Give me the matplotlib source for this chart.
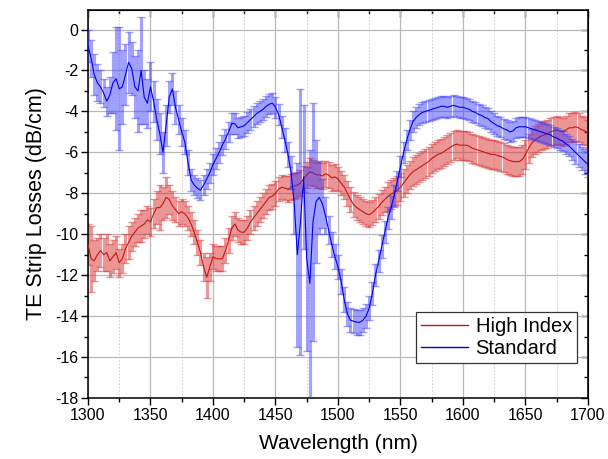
import matplotlib
matplotlib.use("Agg")
import matplotlib.pyplot as plt
import numpy as np
from matplotlib.ticker import MultipleLocator

plt.rcParams["font.family"] = ["Liberation Sans", "DejaVu Sans"]
plt.rcParams["axes.unicode_minus"] = False

# wavelength grid, 2.5 nm steps from 1300 to 1700 nm
WAVELENGTH = np.linspace(1300.0, 1700.0, 161)

# Standard strip (blue), dB/cm
STANDARD = [
    -0.8, -1.4, -2.2, -2.6, -2.8, -3.1, -3.5, -3.2,
    -2.6, -2.4, -2.9, -2.8, -2.2, -1.6, -1.9, -2.8,
    -3.0, -2.0, -3.3, -3.6, -2.8, -3.5, -4.4, -5.1,
    -6.0, -4.7, -3.3, -2.9, -3.8, -4.4, -5.0, -5.5,
    -6.5, -7.35, -7.6, -7.75, -7.85, -7.6, -7.3, -7.0,
    -6.6, -6.3, -6.0, -5.65, -5.35, -5.0, -4.6, -4.6,
    -4.8, -4.75, -4.7, -4.55, -4.4, -4.25, -4.1, -4.0,
    -3.9, -3.75, -3.65, -3.6, -3.8, -4.15, -4.75, -5.4,
    -6.1, -7.0, -8.5, -11.0, -9.4, -7.2, -11.2, -12.4,
    -9.4, -8.4, -8.2, -8.5, -9.1, -9.8, -10.5, -11.1,
    -11.6, -12.3, -13.2, -13.9, -14.2, -14.25, -14.3, -14.3,
    -14.2, -14.0, -13.6, -12.9, -12.0, -11.3, -10.6, -9.9,
    -9.2, -8.7, -8.1, -7.4, -6.7, -6.0, -5.4, -4.9,
    -4.5, -4.3, -4.15, -4.05, -4.0, -3.95, -3.9, -3.85,
    -3.8, -3.75, -3.75, -3.8, -3.75, -3.7, -3.75, -3.8,
    -3.8, -3.85, -3.9, -4.0, -4.05, -4.15, -4.2, -4.3,
    -4.35, -4.5, -4.6, -4.7, -4.75, -4.85, -4.9, -5.0,
    -4.95, -4.8, -4.75, -4.75, -4.75, -4.8, -4.85, -4.9,
    -4.95, -5.0, -5.05, -5.1, -5.15, -5.25, -5.3, -5.4,
    -5.45, -5.6, -5.7, -5.85, -6.0, -6.15, -6.3, -6.45,
    -6.6,
]
STANDARD_ERR = [
    0.8, 0.9, 1.0, 0.9, 0.8, 0.7, 0.7, 0.9,
    1.5, 2.5, 3.0, 1.8, 1.5, 1.5, 1.3, 1.5,
    2.0, 2.6, 1.3, 1.2, 1.2, 1.0, 1.0, 1.0,
    1.0, 1.0, 0.8, 0.8, 0.8, 0.7, 0.7, 0.6,
    0.6, 0.55, 0.5, 0.5, 0.5, 0.5, 0.5, 0.5,
    0.5, 0.5, 0.5, 0.5, 0.5, 0.5, 0.5, 0.5,
    0.5, 0.5, 0.5, 0.5, 0.5, 0.5, 0.5, 0.5,
    0.5, 0.5, 0.5, 0.5, 0.5, 0.5, 0.55, 0.6,
    0.6, 0.8, 1.5, 4.5, 6.5, 3.5, 4.5, 6.5,
    5.8, 3.0, 1.8, 1.2, 0.9, 0.7, 0.6, 0.6,
    0.6, 0.6, 0.6, 0.6, 0.6, 0.6, 0.6, 0.6,
    0.6, 0.6, 0.6, 0.55, 0.55, 0.55, 0.55, 0.55,
    0.55, 0.55, 0.5, 0.5, 0.5, 0.5, 0.5, 0.5,
    0.5, 0.5, 0.5, 0.5, 0.5, 0.5, 0.5, 0.5,
    0.5, 0.5, 0.5, 0.5, 0.5, 0.5, 0.5, 0.5,
    0.5, 0.5, 0.5, 0.5, 0.5, 0.5, 0.5, 0.5,
    0.5, 0.5, 0.5, 0.5, 0.5, 0.5, 0.5, 0.5,
    0.5, 0.5, 0.5, 0.5, 0.5, 0.5, 0.5, 0.5,
    0.5, 0.5, 0.5, 0.5, 0.5, 0.5, 0.5, 0.5,
    0.5, 0.5, 0.5, 0.5, 0.55, 0.55, 0.55, 0.6,
    0.6,
]

# High index strip (red)
HIGH_INDEX = [
    -10.5, -11.2, -11.3, -11.0, -10.8, -11.0, -10.9, -11.3,
    -11.1, -10.9, -11.4, -11.2, -10.7, -10.4, -10.1, -9.9,
    -9.7, -9.6, -9.5, -9.3, -9.4, -9.0, -8.7, -8.7,
    -8.5, -8.2, -8.3, -8.6, -8.8, -9.0, -8.9, -9.0,
    -9.2, -9.5, -9.9, -10.4, -10.9, -11.6, -12.1, -11.6,
    -11.1, -11.2, -11.2, -11.2, -10.8, -10.3, -9.7, -9.5,
    -9.8, -9.9, -9.9, -9.7, -9.4, -9.2, -9.0, -8.8,
    -8.6, -8.4, -8.2, -8.15, -8.0, -7.8, -7.7, -7.75,
    -7.8, -7.7, -7.65, -7.6, -7.5, -7.3, -7.1, -6.95,
    -7.0, -7.1, -7.1, -7.15, -7.05, -7.1, -7.25, -7.2,
    -7.3, -7.5, -7.7, -8.0, -8.3, -8.55, -8.7, -8.8,
    -8.9, -9.0, -9.05, -8.95, -8.8, -8.65, -8.45, -8.3,
    -8.15, -8.05, -7.95, -7.85, -7.7, -7.5, -7.3, -7.1,
    -6.95, -6.85, -6.75, -6.65, -6.55, -6.45, -6.3, -6.2,
    -6.1, -6.05, -5.95, -5.85, -5.75, -5.65, -5.6, -5.65,
    -5.65, -5.65, -5.7, -5.8, -5.85, -5.9, -5.95, -6.0,
    -6.05, -6.1, -6.1, -6.15, -6.2, -6.25, -6.35, -6.4,
    -6.45, -6.45, -6.45, -6.35, -6.1, -5.8, -5.55, -5.4,
    -5.3, -5.2, -5.15, -5.1, -5.0, -4.95, -4.9, -4.95,
    -5.0, -4.9, -4.8, -4.8, -4.75, -4.8, -4.9, -4.95,
    -5.1,
]
HIGH_INDEX_ERR = [
    1.0, 1.6, 1.0, 0.8, 0.8, 0.8, 0.9, 0.8,
    0.8, 0.8, 0.7, 0.7, 0.7, 0.8, 0.7, 0.7,
    0.7, 0.8, 0.7, 0.7, 0.7, 0.7, 0.8, 1.1,
    0.8, 1.0, 0.7, 0.7, 0.6, 0.6, 0.6, 0.6,
    0.6, 0.6, 0.6, 0.6, 0.6, 0.7, 1.0, 0.7,
    0.6, 0.6, 0.6, 0.6, 0.6, 0.6, 0.6, 0.6,
    0.6, 0.6, 0.6, 0.6, 0.6, 0.6, 0.6, 0.6,
    0.6, 0.6, 0.6, 0.6, 0.6, 0.6, 0.6, 0.6,
    0.65, 0.65, 0.65, 0.65, 0.65, 0.65, 0.65, 0.65,
    0.65, 0.65, 0.65, 0.65, 0.65, 0.65, 0.65, 0.65,
    0.6, 0.6, 0.6, 0.6, 0.6, 0.6, 0.6, 0.6,
    0.6, 0.6, 0.6, 0.6, 0.6, 0.6, 0.6, 0.6,
    0.7, 0.7, 0.7, 0.7, 0.7, 0.7, 0.7, 0.7,
    0.7, 0.7, 0.7, 0.7, 0.7, 0.7, 0.7, 0.7,
    0.7, 0.7, 0.7, 0.7, 0.7, 0.7, 0.7, 0.7,
    0.7, 0.7, 0.7, 0.7, 0.7, 0.7, 0.7, 0.7,
    0.7, 0.7, 0.7, 0.7, 0.7, 0.7, 0.7, 0.7,
    0.7, 0.7, 0.7, 0.7, 0.7, 0.7, 0.7, 0.7,
    0.7, 0.7, 0.7, 0.7, 0.7, 0.7, 0.7, 0.7,
    0.7, 0.7, 0.7, 0.7, 0.7, 0.7, 0.7, 0.7,
    0.7,
]

RED_LINE = "#c81414"
RED_BAR = (0.86, 0.2, 0.2, 0.5)
BLUE_LINE = "#0000f0"
BLUE_BAR = (0.2, 0.2, 1.0, 0.45)

fig = plt.figure(figsize=(6.08, 4.59), dpi=100)
ax = fig.add_axes([0.1447, 0.133, 0.8224, 0.845])

# bars 2.25 pt wide so neighbouring 2.5 nm bars touch and read as a band
bar_kw = dict(fmt="none", elinewidth=2.25, capsize=2.8, capthick=1.0)
ax.errorbar(WAVELENGTH, HIGH_INDEX, yerr=HIGH_INDEX_ERR, ecolor=RED_BAR, zorder=2, **bar_kw)
(red_line,) = ax.plot(WAVELENGTH, HIGH_INDEX, color=RED_LINE, lw=0.8, zorder=3, label="High Index")
ax.errorbar(WAVELENGTH, STANDARD, yerr=STANDARD_ERR, ecolor=BLUE_BAR, zorder=4, **bar_kw)
(blue_line,) = ax.plot(WAVELENGTH, STANDARD, color=BLUE_LINE, lw=0.8, zorder=5, label="Standard")

ax.set_xlim(1300, 1700)
ax.set_ylim(-18, 0.95)
ax.xaxis.set_major_locator(MultipleLocator(50))
ax.xaxis.set_minor_locator(MultipleLocator(25))
ax.yaxis.set_major_locator(MultipleLocator(2))
ax.yaxis.set_minor_locator(MultipleLocator(1))

ax.grid(which="major", color="0.72", lw=0.9)
ax.grid(which="minor", axis="x", color="0.8", lw=0.6, ls=(0, (2, 2)))
ax.set_axisbelow(True)

for sp in ax.spines.values():
    sp.set_linewidth(1.1)
ax.tick_params(which="major", direction="out", length=5, width=1.0, labelsize=11.5, pad=2)
ax.tick_params(which="minor", direction="out", length=2.8, width=1.0)

# mirrored ticks pointing inwards on top and right
top = ax.secondary_xaxis("top")
top.xaxis.set_major_locator(MultipleLocator(50))
top.xaxis.set_minor_locator(MultipleLocator(25))
top.tick_params(which="major", direction="in", length=5, width=1.0, labeltop=False)
top.tick_params(which="minor", direction="in", length=2.8, width=1.0)
right = ax.secondary_yaxis("right")
right.yaxis.set_major_locator(MultipleLocator(2))
right.yaxis.set_minor_locator(MultipleLocator(1))
right.tick_params(which="major", direction="in", length=5, width=1.0, labelright=False)
right.tick_params(which="minor", direction="in", length=2.8, width=1.0)

ax.set_xlabel("Wavelength (nm)", fontsize=15, labelpad=8)
ax.set_ylabel("TE Strip Losses (dB/cm)", fontsize=15.5, labelpad=6)

leg = ax.legend(handles=[red_line, blue_line], loc="lower right",
                bbox_to_anchor=(0.978, 0.089), borderaxespad=0, fontsize=14.5,
                handlelength=2.3, fancybox=False, framealpha=1, edgecolor="0.2",
                borderpad=0.25, labelspacing=0.15, handletextpad=0.4)
leg.get_frame().set_linewidth(0.9)
for h in leg.get_lines():
    h.set_linewidth(1.0)

fig.savefig("out.png", dpi=100)
